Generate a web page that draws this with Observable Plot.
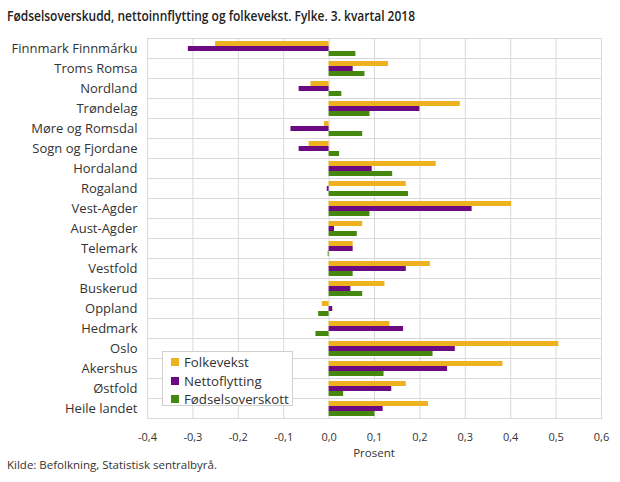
<!DOCTYPE html>
<html>
<head>
<meta charset="utf-8">
<script src="https://cdn.jsdelivr.net/npm/d3@7"></script>
<script src="https://cdn.jsdelivr.net/npm/@observablehq/plot@0.6"></script>
<style>
  html, body { margin: 0; padding: 0; background: #fff; }
  #wrap { position: relative; width: 620px; height: 482px; font-family: "Open Sans", sans-serif; color: #333; overflow: hidden; }
  #title { position: absolute; left: 7px; top: 7px; font-size: 13.5px; font-weight: 600; color: #222; white-space: nowrap; transform-origin: 0 0; }
  #chart { position: absolute; left: 0; top: 30px; }
  #xlabel { position: absolute; left: 147px; width: 454px; top: 445px; text-align: center; font-size: 11.5px; color: #333; }
  #caption { position: absolute; left: 7px; top: 457px; font-size: 11.5px; color: #333; white-space: nowrap; }
  #legend { position: absolute; left: 162px; top: 351px; width: 131px; height: 55px; border: 1px solid #d0d0d0; background: #fff; box-sizing: border-box; padding: 1px 0 0 8px; }
  #legend .row { display: flex; align-items: center; height: 18.5px; font-size: 13.3px; color: #333; }
  #legend .sw { width: 8px; height: 8px; margin-right: 5px; }
</style>
</head>
<body>
<div id="wrap">
  <div id="title">Fødselsoverskudd, nettoinnflytting og folkevekst. Fylke. 3. kvartal 2018</div>
  <div id="chart"></div>
  <div id="legend"></div>
  <div id="xlabel">Prosent</div>
  <div id="caption">Kilde: Befolkning, Statistisk sentralbyrå.</div>
</div>
<script>
const regions = ["Finnmark Finnmárku", "Troms Romsa", "Nordland", "Trøndelag", "Møre og Romsdal", "Sogn og Fjordane", "Hordaland", "Rogaland", "Vest-Agder", "Aust-Agder", "Telemark", "Vestfold", "Buskerud", "Oppland", "Hedmark", "Oslo", "Akershus", "Østfold", "Heile landet"];
const series = ["Folkevekst", "Nettoflytting", "Fødselsoverskott"];
const folkevekst =       [-0.250, 0.131, -0.040, 0.289, -0.010, -0.044, 0.236, 0.170, 0.402, 0.074, 0.053, 0.223, 0.123, -0.015, 0.134, 0.506, 0.383, 0.170, 0.219];
const nettoflytting =    [-0.310, 0.053, -0.066, 0.200, -0.084, -0.066, 0.095, -0.004, 0.315, 0.012, 0.053, 0.170, 0.048, 0.008, 0.164, 0.278, 0.261, 0.138, 0.119];
const fodselsoverskott = [0.059, 0.079, 0.028, 0.090, 0.074, 0.023, 0.140, 0.175, 0.090, 0.062, -0.002, 0.053, 0.074, -0.023, -0.029, 0.229, 0.121, 0.032, 0.101];
const xTicks = [-0.4, -0.3, -0.2, -0.1, 0.0, 0.1, 0.2, 0.3, 0.4, 0.5, 0.6];
const colors = ["#EEB120", "#6C0A83", "#46880F"];

const valuesBySeries = [folkevekst, nettoflytting, fodselsoverskott];
const data = [];
regions.forEach((r, i) => {
  series.forEach((s, j) => data.push({region: r, series: s, value: valuesBySeries[j][i]}));
});

const fmt = d => d.toFixed(1).replace(".", ",");

const chart = Plot.plot({
  width: 620,
  height: 418,
  marginTop: 7,
  marginBottom: 30,
  marginLeft: 147,
  marginRight: 19,
  style: {fontFamily: "Open Sans, sans-serif", color: "#333", background: "transparent"},
  x: {domain: [-0.4, 0.6]},
  y: {domain: series, paddingInner: 0.04, paddingOuter: 0.22, axis: null},
  fy: {domain: regions, padding: 0, label: null},
  color: {domain: series, range: colors},
  marks: [
    Plot.gridX(xTicks, {stroke: "#d9d9d9", strokeOpacity: 1}),
    Plot.frame({stroke: "#d9d9d9"}),
    Plot.barX(data, {x: "value", y: "series", fy: "region", fill: "series"}),
    Plot.axisX({ticks: xTicks, tickFormat: fmt, tickSize: 0, tickPadding: 15, label: null, fontSize: 11, color: "#333"}),
    Plot.axisFy({anchor: "left", tickSize: 0, tickPadding: 10, label: null, fontSize: 13, color: "#333"})
  ]
});
document.getElementById("chart").appendChild(chart);

const legend = document.getElementById("legend");
series.forEach((s, i) => {
  const row = document.createElement("div");
  row.className = "row";
  row.innerHTML = `<span class="sw" style="background:${colors[i]}"></span><span>${s}</span>`;
  legend.appendChild(row);
});

const title = document.getElementById("title");
const w = title.getBoundingClientRect().width;
title.style.transform = `scaleX(${408 / w})`;
</script>
</body>
</html>
